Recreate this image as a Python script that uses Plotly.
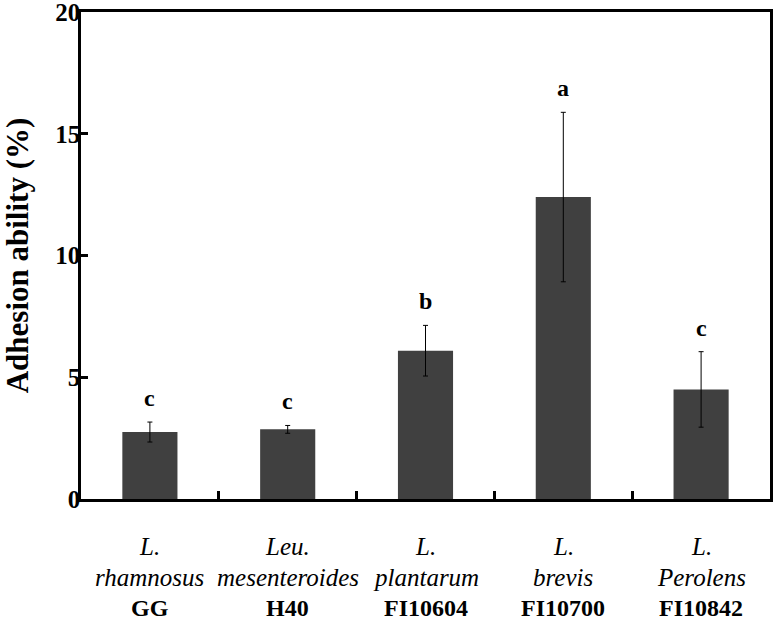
import plotly.graph_objects as go

species_line1 = ["L.", "Leu.", "L.", "L.", "L."]
species_line2 = ["rhamnosus", "mesenteroides", "plantarum", "brevis", "Perolens"]
strains = ["GG", "H40", "FI10604", "FI10700", "FI10842"]
adhesion = [2.75, 2.86, 6.09, 12.40, 4.50]
errors = [0.41, 0.16, 1.04, 3.48, 1.55]
letters = ["c", "c", "b", "a", "c"]
y_ticks = [0, 5, 10, 15, 20]

FONT = "Liberation Serif"

fig = go.Figure()
fig.add_trace(go.Bar(
    x=strains, y=adhesion,
    marker=dict(color="#404040", line=dict(width=0)),
    width=0.4,
    error_y=dict(type="data", array=errors, visible=True,
                 color="black", thickness=1, width=2.5),
))

for s, v, e, l in zip(strains, adhesion, errors, letters):
    fig.add_annotation(x=s, y=v + e, text="<b>%s</b>" % l, showarrow=False,
                       yanchor="middle", yshift=24,
                       font=dict(family=FONT, size=24, color="black"))

for s, l1, l2 in zip(strains, species_line1, species_line2):
    fig.add_annotation(x=s, y=0, yref="paper", text="<i>%s</i>" % l1, showarrow=False,
                       yanchor="middle", yshift=-47,
                       font=dict(family=FONT, size=25, color="black"))
    fig.add_annotation(x=s, y=0, yref="paper", text="<i>%s</i>" % l2, showarrow=False,
                       yanchor="middle", yshift=-78,
                       font=dict(family=FONT, size=25, color="black"))
    fig.add_annotation(x=s, y=0, yref="paper", text="<b>%s</b>" % s, showarrow=False,
                       yanchor="middle", yshift=-109,
                       font=dict(family=FONT, size=24, color="black"))

fig.update_layout(
    width=774, height=628,
    margin=dict(l=81, r=4, t=12, b=129, autoexpand=False),
    plot_bgcolor="white", paper_bgcolor="white",
    showlegend=False,
    font=dict(family=FONT, color="black"),
    xaxis=dict(showline=True, linecolor="black", linewidth=2.5, mirror=True,
               ticks="inside", tickson="boundaries", ticklen=8, tickwidth=2.5,
               tickcolor="black", showticklabels=False, showgrid=False,
               automargin=False),
    yaxis=dict(range=[0, 20], tickvals=y_ticks, showline=True, linecolor="black",
               linewidth=2.5, mirror=True, ticks="inside", ticklen=7, tickwidth=2.5,
               tickcolor="black", showgrid=False, zeroline=False, automargin=False,
               ticklabeloverflow="allow", ticklabelstandoff=-7,
               tickfont=dict(family=FONT, size=25, color="black", weight="bold"),
               title=dict(text="<b>Adhesion ability (%)</b>", standoff=36,
                          font=dict(family=FONT, size=31, color="black"))),
)

fig.write_html("out.html", config={"displayModeBar": False},
               post_script="document.body.style.margin='0';document.body.style.overflow='hidden';")
